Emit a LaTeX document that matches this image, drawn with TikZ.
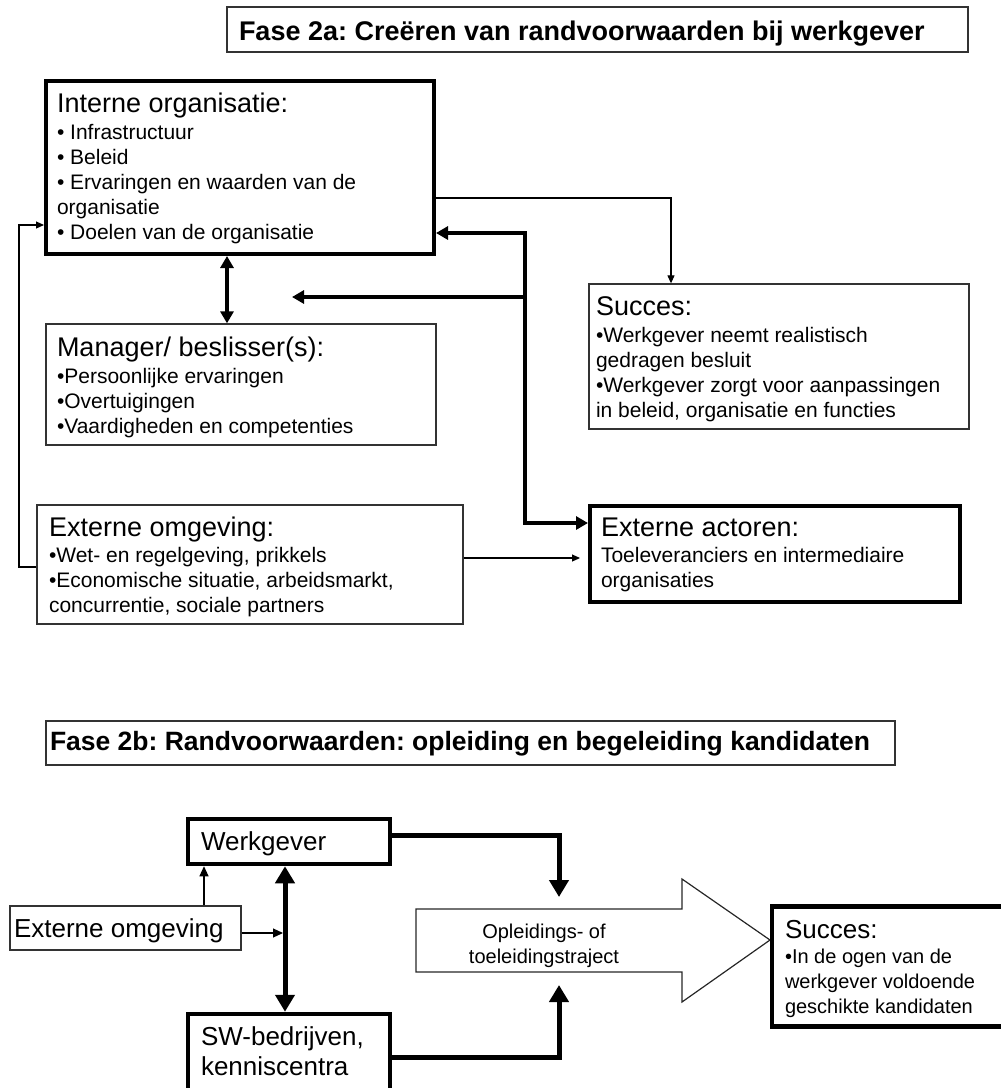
\documentclass[tikz,border=0pt]{standalone}
\usepackage{fontspec}
\setmainfont{Liberation Sans}
\usetikzlibrary{arrows.meta}
\frenchspacing
\newcommand\myhdA{\fontsize{27}{27}\selectfont}
\newcommand\mybtA{\fontsize{21}{25}\selectfont}
\newcommand\myhdB{\fontsize{26}{26}\selectfont}
\newcommand\mybtB{\fontsize{20}{25}\selectfont}
\tikzset{
  box/.style={rectangle, draw=black!80, line width=1.3pt, inner sep=0pt},
  tbox/.style={rectangle, draw=black, line width=4pt, inner sep=0pt},
  bbox/.style={rectangle, draw=black, line width=4.5pt, inner sep=0pt},
  txt/.style={anchor=base west, inner sep=0pt, outer sep=0pt},
  thk/.style={draw=black, line width=4pt},
  thkB/.style={draw=black, line width=5pt},
  thn/.style={draw=black, line width=1.1pt},
  tipA/.tip={Triangle[length=12pt,width=13pt]},
  tipB/.tip={Triangle[length=17pt,width=19pt]},
  tipS/.tip={Triangle[length=8pt,width=7pt]},
  tipT/.tip={Triangle[length=10pt,width=9pt]},
}
\begin{document}
\begin{tikzpicture}[x=1pt,y=-1pt]
\useasboundingbox (0,0) rectangle (1001,1088);

% ---------- Fase 2a ----------
\node[box, minimum width=741pt, minimum height=45pt] (t1) at (597.5,29.5) {};
\node[txt] (t1t) at (239,40) {\bfseries\fontsize{27}{27}\selectfont Fase 2a: Creëren van randvoorwaarden bij werkgever};

\node[tbox, minimum width=388pt, minimum height=173pt] (io) at (240,167.5) {};
\node[txt] (iot) at (57,112) {\vtop{\lineskiplimit=-100pt\baselineskip=27pt
  \hbox{\myhdA Interne organisatie:}\hbox{\mybtA • Infrastructuur}\baselineskip=25pt
  \hbox{\mybtA • Beleid}\hbox{\mybtA • Ervaringen en waarden van de}
  \hbox{\mybtA organisatie}\hbox{\mybtA • Doelen van de organisatie}}};

\node[box, minimum width=390pt, minimum height=121pt] (mg) at (241,384.5) {};
\node[txt] (mgt) at (57,356) {\vtop{\lineskiplimit=-100pt\baselineskip=27pt
  \hbox{\myhdA Manager/ beslisser(s):}\hbox{\mybtA •Persoonlijke ervaringen}\baselineskip=25pt
  \hbox{\mybtA •Overtuigingen}\hbox{\mybtA •Vaardigheden en competenties}}};

\node[box, minimum width=380pt, minimum height=145pt] (sc) at (779,356.5) {};
\node[txt] (sct) at (596,315) {\vtop{\lineskiplimit=-100pt\baselineskip=27.7pt
  \hbox{\myhdA Succes:}\hbox{\mybtA •Werkgever neemt realistisch}\baselineskip=25pt
  \hbox{\mybtA gedragen besluit}\hbox{\mybtA •Werkgever zorgt voor aanpassingen}
  \hbox{\mybtA in beleid, organisatie en functies}}};

\node[box, minimum width=426pt, minimum height=119pt] (eo) at (250,564.5) {};
\node[txt] (eot) at (49,536.7) {\vtop{\lineskiplimit=-100pt\baselineskip=26pt
  \hbox{\myhdA Externe omgeving:}\hbox{\mybtA •Wet- en regelgeving, prikkels}\baselineskip=25pt
  \hbox{\mybtA •Economische situatie, arbeidsmarkt,}\hbox{\mybtA concurrentie, sociale partners}}};

\node[tbox, minimum width=370pt, minimum height=96pt] (ea) at (775,554) {};
\node[txt] (eat) at (601,536.7) {\vtop{\lineskiplimit=-100pt\baselineskip=26pt
  \hbox{\myhdA Externe actoren:}\hbox{\mybtA Toeleveranciers en intermediaire}\baselineskip=24.5pt
  \hbox{\mybtA organisaties}}};

\coordinate (xa) at (227,0);
\coordinate (j1) at (525,233);
\coordinate (j2) at (525,523);
\coordinate (j3) at (525,297);
\coordinate (m3) at (292,297);
\coordinate (k1) at (671,198);
\coordinate (k2) at (19,567);
\coordinate (k3) at (19,225);
\coordinate (k4) at (580,558);

\draw[thk, tipA-tipA] (io.south -| xa) -- (mg.north -| xa);
\draw[thk, tipA-tipA, line join=miter] (io.east |- j1) -- (j1) -- (j2) -- (ea.west |- j2);
\draw[thk, -tipA] (j3) -- (m3);
\draw[thn, -tipS] (io.east |- k1) -- (k1) -- (sc.north -| k1);
\draw[thn, -tipS] (eo.west |- k2) -- (k2) -- (k3) -- (io.west |- k3);
\draw[thn, -tipS] (eo.east |- k4) -- (k4);

% ---------- Fase 2b ----------
\node[box, minimum width=849pt, minimum height=44pt] (t2) at (470.5,743) {};
\node[txt] (t2t) at (50,750) {\bfseries\fontsize{26.5}{26.5}\selectfont Fase 2b: Randvoorwaarden: opleiding en begeleiding kandidaten};

\node[bbox, minimum width=202pt, minimum height=45pt] (wg) at (289,841.5) {};
\node[txt] (wgt) at (201,850) {\myhdB Werkgever};

\node[box, minimum width=231pt, minimum height=44pt] (eo2) at (125.5,928) {};
\node[txt] (eo2t) at (14,937) {\myhdB Externe omgeving};

\node[bbox, minimum width=202pt, minimum height=96pt] (sw) at (289,1062) {};
\node[txt] (swt) at (201,1045) {\vtop{\lineskiplimit=-100pt\baselineskip=30pt
  \hbox{\myhdB SW-bedrijven,}\hbox{\myhdB kenniscentra}}};

\draw[line width=1.2pt, draw=black!85, line join=miter]
  (416,909) -- (682,909) -- (682,879) -- (770,940) -- (682,1002) -- (682,972) -- (416,972) -- cycle;
\node[anchor=base, inner sep=0pt] (ar1) at (544,938) {\mybtB Opleidings- of};
\node[anchor=base, inner sep=0pt] (ar2) at (544,963) {\mybtB toeleidingstraject};

\node[bbox, minimum width=240pt, minimum height=120pt] (sc2) at (892,966.5) {};
\node[txt] (sc2t) at (785,938) {\vtop{\lineskiplimit=-100pt\baselineskip=25pt
  \hbox{\myhdB Succes:}\hbox{\mybtB •In de ogen van de}
  \hbox{\mybtB werkgever voldoende}\hbox{\mybtB geschikte kandidaten}}};

\coordinate (k5) at (204,0);
\coordinate (k6) at (285,0);
\coordinate (k7) at (283,933);
\coordinate (k8) at (559,835);
\coordinate (k9) at (559,897);
\coordinate (k10) at (559,1057);
\coordinate (k11) at (559,985);

\draw[thn, -tipT] (eo2.north -| k5) -- (wg.south -| k5);
\draw[thkB, tipB-tipB] (wg.south -| k6) -- (sw.north -| k6);
\draw[thn, -tipT] (eo2.east |- k7) -- (k7);
\draw[thkB, -tipB, line join=miter] (wg.east |- k8) -- (k8) -- (k9);
\draw[thkB, -tipB, line join=miter] (sw.east |- k10) -- (k10) -- (k11);
\end{tikzpicture}
\end{document}
